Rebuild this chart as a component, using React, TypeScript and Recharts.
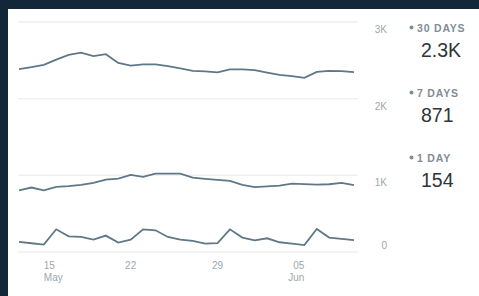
import React from 'react';
import { LineChart, Line, XAxis, YAxis, CartesianGrid } from 'recharts';

const days = [
  'May 13', 'May 14', 'May 15', 'May 16', 'May 17', 'May 18', 'May 19',
  'May 20', 'May 21', 'May 22', 'May 23', 'May 24', 'May 25', 'May 26',
  'May 27', 'May 28', 'May 29', 'May 30', 'May 31', 'Jun 1', 'Jun 2',
  'Jun 3', 'Jun 4', 'Jun 5', 'Jun 6', 'Jun 7', 'Jun 8', 'Jun 9',
];

const thirtyDays = [
  2385, 2410, 2440, 2510, 2570, 2600, 2555, 2580, 2467, 2430, 2446, 2446, 2425, 2394,
  2363, 2355, 2342, 2381, 2381, 2372, 2340, 2310, 2294, 2272, 2350, 2363, 2360, 2345,
];

const sevenDays = [
  805, 841, 805, 849, 858, 875, 901, 945, 958, 1005, 979, 1023, 1023, 1023,
  971, 955, 940, 927, 875, 845, 855, 867, 893, 885, 878, 884, 901, 871,
];

const oneDay = [
  131, 114, 97, 296, 205, 196, 162, 214, 123, 162, 296, 283, 196, 162,
  144, 110, 117, 296, 188, 153, 179, 127, 110, 91, 300, 188, 170, 154,
];

const xTicks = [2, 9, 16, 23];
const xTickLabels: Record<number, [string, string]> = {
  2: ['15', 'May'],
  9: ['22', ''],
  16: ['29', ''],
  23: ['05', 'Jun'],
};

const yTicks = [0, 1000, 2000, 3000];
const yTickLabels: Record<number, string> = { 0: '0', 1000: '1K', 2000: '2K', 3000: '3K' };

const summaryLabels = ['30 DAYS', '7 DAYS', '1 DAY'];
const summaryValues = ['2.3K', '871', '154'];

const data = days.map((d, i) => ({
  i,
  day: d,
  d30: thirtyDays[i],
  d7: sevenDays[i],
  d1: oneDay[i],
}));

const FONT = '"Liberation Sans", Arial, Helvetica, sans-serif';
const LINE = '#5e7887';
const TICK = '#9ea7ad';

const XTick = (props: any) => {
  const { x, y, payload } = props;
  const v = payload.value as number;
  const lab = xTickLabels[v] || ['', ''];
  const anchor = v === xTicks[0] ? 'start' : v === xTicks[xTicks.length - 1] ? 'end' : 'middle';
  return (
    <g>
      <text x={x} y={y} dy={8.5} textAnchor={anchor} fill={TICK} fontSize={10} fontFamily={FONT}>
        {lab[0]}
      </text>
      {lab[1] ? (
        <text x={x} y={y} dy={20.5} textAnchor={anchor} fill={TICK} fontSize={10} fontFamily={FONT}>
          {lab[1]}
        </text>
      ) : null}
    </g>
  );
};

const YTick = (props: any) => {
  const { x, y, payload } = props;
  const v = payload.value as number;
  return (
    <text
      x={x}
      y={y}
      dx={21}
      dy={v === 0 ? -3 : 11}
      textAnchor="end"
      fill={TICK}
      fontSize={10}
      fontFamily={FONT}
    >
      {yTickLabels[v]}
    </text>
  );
};

export default function App() {
  return (
    <div
      style={{
        position: 'fixed',
        left: 0,
        top: 0,
        width: 479,
        height: 296,
        background: '#13273a',
        overflow: 'hidden',
      }}
    >
      <div
        style={{
          position: 'absolute',
          left: 8,
          top: 9,
          width: 471,
          height: 287,
          background: '#ffffff',
        }}
      />
      <div style={{ position: 'absolute', left: 0, top: 0 }}>
        <LineChart
          width={479}
          height={296}
          data={data}
          margin={{ top: 22, right: 81, bottom: 14, left: 18 }}
        >
          <CartesianGrid horizontal vertical={false} stroke="#eef0f1" strokeWidth={1.5} />
          <XAxis
            dataKey="i"
            type="number"
            domain={[0, 27]}
            ticks={xTicks}
            padding={{ left: 1, right: 4 }}
            axisLine={false}
            tickLine={false}
            height={30}
            tick={<XTick />}
            interval={0}
          />
          <YAxis
            orientation="right"
            type="number"
            domain={[0, 3000]}
            ticks={yTicks}
            axisLine={false}
            tickLine={false}
            width={40}
            tick={<YTick />}
            interval={0}
          />
          <Line type="linear" dataKey="d30" stroke={LINE} strokeWidth={1.8} dot={false} isAnimationActive={false} />
          <Line type="linear" dataKey="d7" stroke={LINE} strokeWidth={1.8} dot={false} isAnimationActive={false} />
          <Line type="linear" dataKey="d1" stroke={LINE} strokeWidth={1.8} dot={false} isAnimationActive={false} />
        </LineChart>
      </div>
      <svg
        width={479}
        height={296}
        style={{ position: 'absolute', left: 0, top: 0, pointerEvents: 'none' }}
      >
        {summaryLabels.map((lab, k) => (
          <g key={lab}>
            <circle cx={411.5} cy={27.5 + k * 65} r={2} fill="#7f8d96" />
            <text
              x={417}
              y={31.5 + k * 65}
              fill="#7f8d96"
              fontSize={10.5}
              fontWeight="bold"
              letterSpacing={0.8}
              fontFamily={FONT}
            >
              {lab}
            </text>
            <text
              x={421}
              y={56.5 + k * 65}
              fill="#2f3439"
              fontSize={19.5}
              fontFamily={FONT}
            >
              {summaryValues[k]}
            </text>
          </g>
        ))}
      </svg>
    </div>
  );
}
